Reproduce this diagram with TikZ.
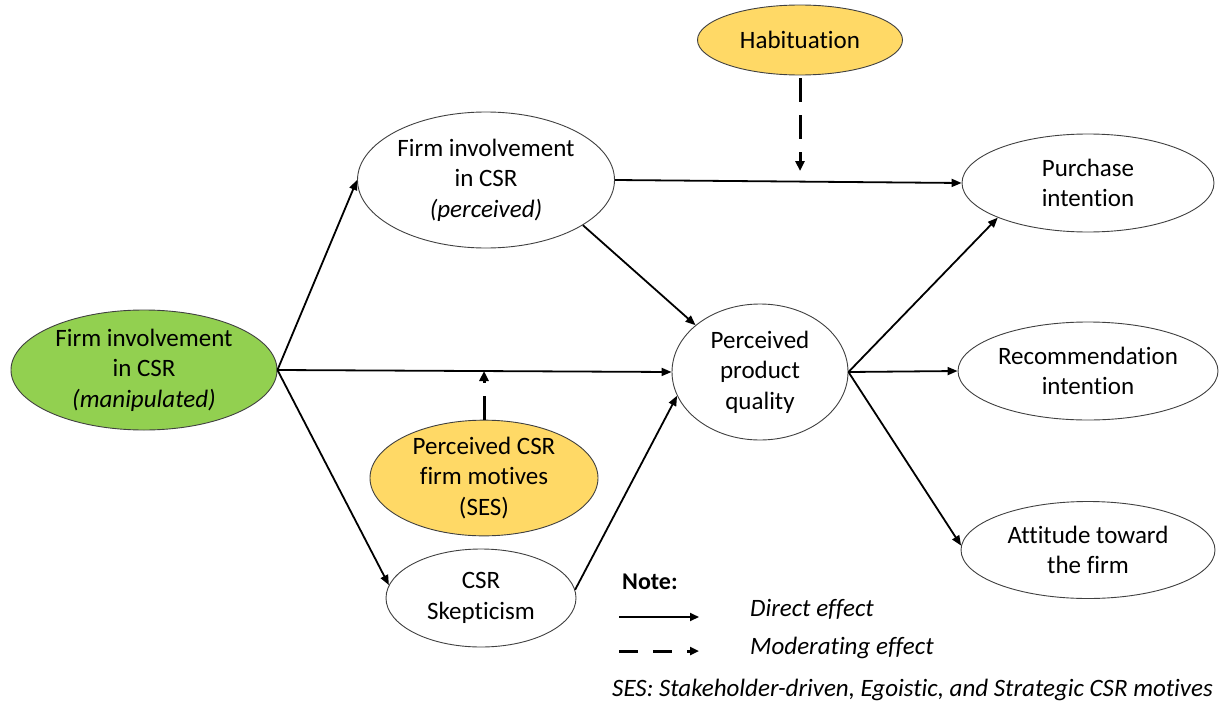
\documentclass[tikz,border=0pt]{standalone}
\usepackage{fontspec}
\setmainfont[RawFeature=-liga]{Carlito}
\usetikzlibrary{shapes.geometric,arrows.meta}
\definecolor{cgreen}{HTML}{92D050}
\definecolor{cyellow}{HTML}{FFD966}
\begin{document}
\begin{tikzpicture}[x=1pt,y=-1pt,
 ell/.style={ellipse,draw=black!75,line width=0.9pt,inner sep=0pt,align=center,font=\fontsize{25}{30.5}\selectfont},
 arr/.style={-{Triangle[length=10pt,width=8pt]},line width=1.8pt},
 modarr/.style={-{Triangle[length=10pt,width=9pt]},line width=3pt,dash pattern=on 24pt off 13pt},
 legtext/.style={anchor=west,inner sep=0pt,font=\fontsize{25}{28}\selectfont\itshape}
]
\useasboundingbox (0,0) rectangle (1228,701);
\node[ell,fill=cgreen,minimum width=266pt,minimum height=120pt] (man) at (144,370) {Firm involvement\\in CSR\\\textit{(manipulated)}};
\node[ell,fill=white,minimum width=257pt,minimum height=136pt] (perc) at (486,180) {Firm involvement\\in CSR\\\textit{(perceived)}};
\node[ell,fill=cyellow,minimum width=205pt,minimum height=70pt] (hab) at (800,40) {Habituation};
\node[ell,fill=white,minimum width=252pt,minimum height=98pt] (pur) at (1088,183) {Purchase\\intention};
\node[ell,fill=white,minimum width=260pt,minimum height=98pt] (rec) at (1088,371) {Recommendation\\intention};
\node[ell,fill=white,minimum width=254pt,minimum height=97pt] (att) at (1088,550) {Attitude toward\\the firm};
\node[ell,fill=white,minimum width=176pt,minimum height=136pt] (ppq) at (760,372) {Perceived\\product\\quality};
\node[ell,fill=cyellow,minimum width=228pt,minimum height=96pt] (mot) at (484,478) {Perceived CSR\\firm motives\\(SES)};
\node[ell,fill=white,minimum width=190pt,minimum height=98pt] (skep) at (481,598) {CSR\\Skepticism};

\draw[arr] (man.east) -- (perc.west);
\draw[arr] (man.east) -- (ppq.west);
\draw[arr] (man.east) -- (skep.172);
\draw[arr] (perc.east) -- (pur.west);
\draw[arr] (perc.-25) -- (ppq.144);
\draw[arr] (skep.5) -- (ppq.196);
\draw[arr] (ppq.east) -- (pur.201);
\draw[arr] (ppq.east) -- (rec.west);
\draw[arr] (ppq.east) -- (att.178);

\coordinate (habend) at (800,171);
\coordinate (motend) at (484,371);
\draw[modarr] (hab.south) ++(0,3) coordinate (habstart) -- (habend);
\draw[modarr] (mot.north) -- (motend);

\node[anchor=west,inner sep=0pt,font=\fontsize{24}{26}\selectfont\bfseries] (note) at (622,582) {Note:};
\coordinate (l1a) at (619,617);
\coordinate (l1b) at (699,617);
\coordinate (l2a) at (619,651);
\coordinate (l2b) at (699,651);
\draw[-{Triangle[length=9pt,width=8pt]},line width=1.8pt] (l1a) -- (l1b);
\draw[-{Triangle[length=9pt,width=8pt]},line width=3pt,dash pattern=on 19pt off 15pt] (l2a) -- (l2b);
\node[legtext] (direct) at (750,609) {Direct effect};
\node[legtext] (moder) at (750,648) {Moderating effect};
\node[legtext] (ses) at (612,690) {SES: Stakeholder-driven, Egoistic, and Strategic CSR motives};
\end{tikzpicture}
\end{document}
